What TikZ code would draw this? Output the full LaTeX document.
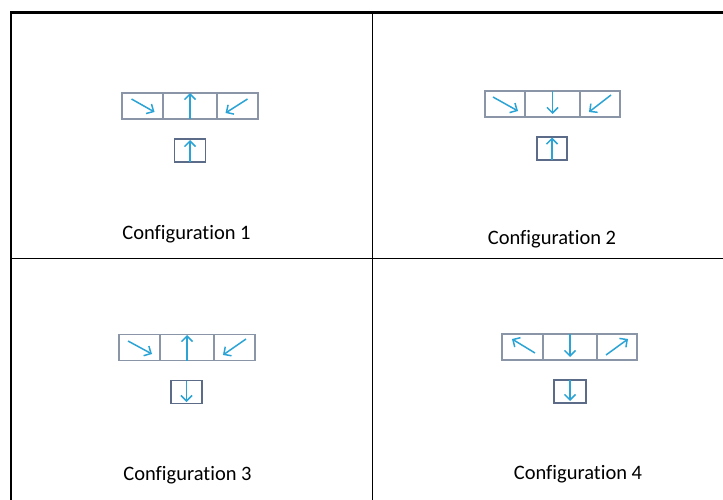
\documentclass[tikz,border=0pt]{standalone}
\usepackage{fontspec}
\setmainfont{Carlito}[Ligatures=NoCommon]
\usetikzlibrary{arrows.meta,positioning}

\definecolor{boxline}{HTML}{8A95A7}
\definecolor{probeline}{HTML}{5C6C88}
\definecolor{spinblue}{HTML}{2BA3D5}

\tikzset{
  cellbox/.style={draw=boxline, line width=1.3pt, minimum height=26pt, inner sep=0pt, outer sep=0pt},
  probebox/.style={draw=probeline, line width=1.6pt, minimum width=31pt, minimum height=23pt, inner sep=0pt, outer sep=0pt},
  spin/.style={draw=spinblue, line width=1.5pt, -{Straight Barb[length=5.5pt, width=11pt, line width=1.5pt]}},
  caption/.style={anchor=base, font=\fontsize{20.5}{24}\selectfont, inner sep=0pt},
}

\begin{document}
\begin{tikzpicture}[x=1pt, y=-1pt]
\useasboundingbox (0,0) rectangle (723,500);

% Frame and quadrants
\draw[line width=2.4pt] (11,500) -- (11,12.5) -- (723,12.5);
\draw[line width=1.2pt] (372.5,12.5) -- (372.5,500);
\draw[line width=1.2pt] (11,258.5) -- (723,258.5);

% Configuration 1
\node[cellbox, minimum width=41pt, anchor=west] (a1) at (122,106) {};
\node[cellbox, minimum width=54pt, right=0pt of a1] (a2) {};
\node[cellbox, minimum width=41pt, right=0pt of a2] (a3) {};
\node[probebox] (ap) at (190,150.5) {};
\draw[spin] ([shift={(-11,-7)}]a1.center) -- ([shift={(12,6)}]a1.center);
\draw[spin] (a2.south) -- (a2.north);
\draw[spin] ([shift={(10,-7)}]a3.center) -- ([shift={(-12,7)}]a3.center);
\draw[spin] (ap.south) -- ([shift={(0,-10.5)}]ap.center);
\node[caption] (acap) at (186.5,239) {Configuration 1};

% Configuration 2
\node[cellbox, minimum width=40pt, anchor=west] (b1) at (485,104) {};
\node[cellbox, minimum width=55pt, right=0pt of b1] (b2) {};
\node[cellbox, minimum width=40pt, right=0pt of b2] (b3) {};
\node[probebox, minimum width=30pt] (bp) at (552,148.5) {};
\draw[spin] ([shift={(-12,-7)}]b1.center) -- ([shift={(13,7)}]b1.center);
\draw[spin] (b2.north) -- ([shift={(0,10)}]b2.center);
\draw[spin] ([shift={(11,-9)}]b3.center) -- ([shift={(-11,8)}]b3.center);
\draw[spin] (bp.south) -- ([shift={(0,-11)}]bp.center);
\node[caption] (bcap) at (552,244) {Configuration 2};

% Configuration 3
\node[cellbox, minimum width=41pt, anchor=west] (c1) at (119,347.5) {};
\node[cellbox, minimum width=54pt, right=0pt of c1] (c2) {};
\node[cellbox, minimum width=41pt, right=0pt of c2] (c3) {};
\node[probebox] (cp) at (186.5,392) {};
\draw[spin] ([shift={(-11.5,-6.5)}]c1.center) -- ([shift={(12.5,6.5)}]c1.center);
\draw[spin] (c2.south) -- ([shift={(0,-12.5)}]c2.center);
\draw[spin] ([shift={(11.5,-8.5)}]c3.center) -- ([shift={(-11.5,7.5)}]c3.center);
\draw[spin] (cp.north) -- ([shift={(0,10)}]cp.center);
\node[caption] (ccap) at (187.5,480) {Configuration 3};

% Configuration 4
\node[cellbox, minimum width=41pt, anchor=west] (d1) at (502,347) {};
\node[cellbox, minimum width=54pt, right=0pt of d1] (d2) {};
\node[cellbox, minimum width=40pt, right=0pt of d2] (d3) {};
\node[probebox, minimum width=32pt] (dp) at (570,391.5) {};
\draw[spin] ([shift={(12.5,6)}]d1.center) -- ([shift={(-10.5,-8)}]d1.center);
\draw[spin] (d2.north) -- ([shift={(0,10)}]d2.center);
\draw[spin] ([shift={(-11,8)}]d3.center) -- ([shift={(11,-8)}]d3.center);
\draw[spin] (dp.north) -- ([shift={(0,9.5)}]dp.center);
\node[caption] (dcap) at (578,479) {Configuration 4};

\end{tikzpicture}
\end{document}
